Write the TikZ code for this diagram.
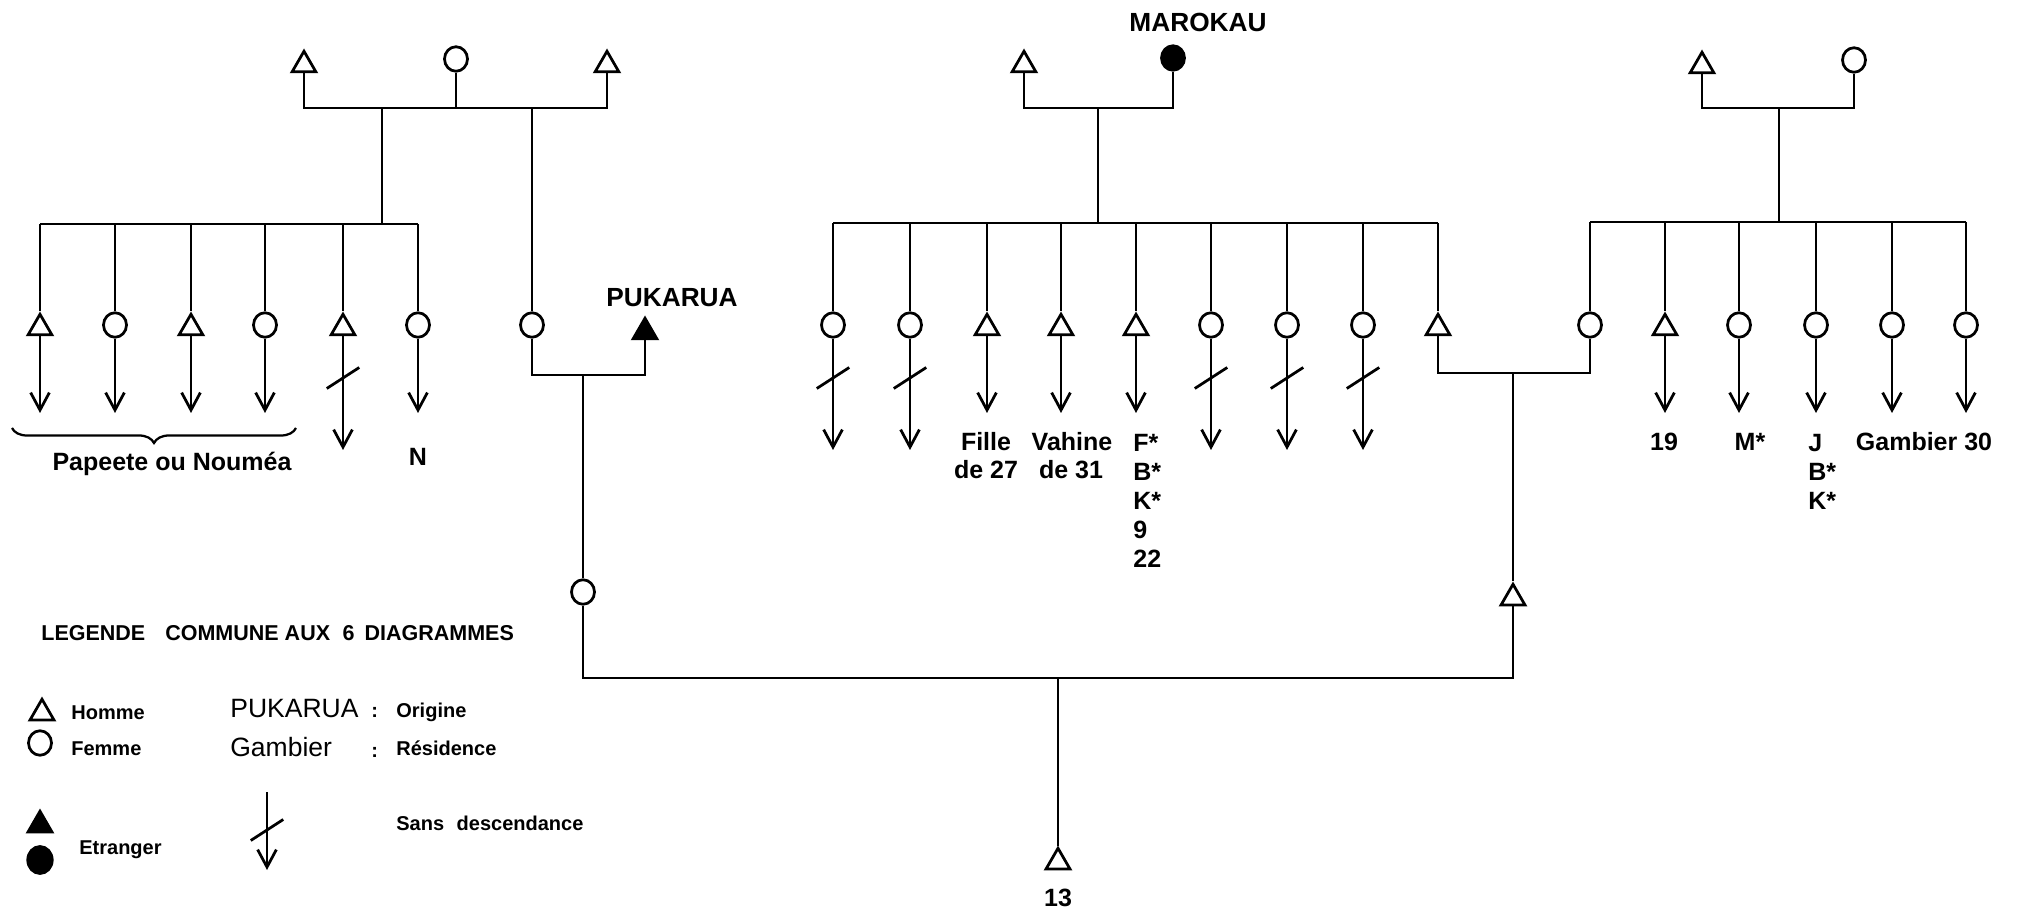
\documentclass[tikz,border=0pt]{standalone}
\usepackage{fontspec}
\setmainfont{Liberation Sans}
\usetikzlibrary{shapes.geometric,arrows.meta,decorations.pathreplacing,calc}
\newcommand\slashat[1]{\draw ([xshift=-6.5pt,yshift=-4.2pt]#1) -- ([xshift=6.5pt,yshift=4.2pt]#1);}
\begin{document}
\begin{tikzpicture}[x=0.4pt,y=-0.4pt, line width=1.1pt,
  man/.style={draw, regular polygon, regular polygon sides=3, minimum size=11pt, inner sep=0pt, fill=white},
  woman/.style={draw, ellipse, minimum width=9.2pt, minimum height=9.8pt, inner sep=0pt, fill=white},
  fman/.style={man, fill=black},
  fwoman/.style={woman, fill=black},
  desc/.style={-{Straight Barb[length=7pt,width=7.5pt]}},
  lbl/.style={font=\bfseries\fontsize{10}{11.6}\selectfont, inner sep=0pt, anchor=base},
  plc/.style={font=\bfseries\fontsize{10.5}{12}\selectfont, inner sep=0pt, anchor=base},
  leg/.style={font=\bfseries\fontsize{8}{10}\selectfont, inner sep=0pt, anchor=base west},
  legbig/.style={font=\fontsize{10.6}{12}\selectfont, inner sep=0pt, anchor=base west},
  stack/.style={font=\bfseries\fontsize{10}{11.6}\selectfont, inner sep=0pt, anchor=north west, align=left}
]
\useasboundingbox (0,0) rectangle (2019,911);
\coordinate (tipA) at (0,413);
\coordinate (tipB) at (0,450);
\coordinate (slA) at (0,378);

% ---------- Family 1 (top left) ----------
\node[man] (a1) at (304,65) {};
\node[woman] (a2) at (456,59) {};
\node[man] (a3) at (607,65) {};
\coordinate (m1) at (382,108);
\draw (a1.south) |- (a3.south |- m1) -- (a3.south);
\draw (a2.south) -- (a2.south |- m1);
\coordinate (s1L) at (40,224);
\coordinate (s1R) at (418,224);
\draw (m1) -- (m1 |- s1L);
\draw (s1L) -- (s1R);
\foreach \n/\x/\s/\y in {k1/40/man/328, k2/115/woman/325, k3/191/man/328, k4/265/woman/325, k5/343/man/328, k6/418/woman/325}
  {\node[\s] (\n) at (\x,\y) {};
   \draw (\n.north |- s1L) -- (\n.north);}
\foreach \n in {k1,k2,k3,k4,k6} {\draw[desc] (\n.south) -- (\n.south |- tipA);}
\draw[desc] (k5.south) -- (k5.south |- tipB);
\coordinate (x5) at (k5 |- slA);
\slashat{x5}
\coordinate (br1) at (12,428);
\coordinate (br2) at (296,428);
\draw[line width=0.9pt, decorate, decoration={brace, mirror, amplitude=6pt}] (br1) -- (br2);
\node[lbl] (papeete) at (172,471) {Papeete ou Nouméa};
\node[lbl] (nlab) at (418,466) {N};

% ---------- Pukarua branch ----------
\node[woman] (b1) at (532,325) {};
\draw (b1.north |- m1) -- (b1.north);
\node[fman] (b2) at (645,332) {};
\node[plc] (puk) at (672,307) {PUKARUA};
\coordinate (m2) at (583,375);
\draw (b1.south) |- (b2.south |- m2) -- (b2.south);
\node[woman] (c1) at (583,592) {};
\draw (m2) -- (c1.north);

% ---------- Marokau family ----------
\node[plc] (mar) at (1198,32) {MAROKAU};
\node[man] (p1) at (1024,65) {};
\node[fwoman] (p2) at (1173,58) {};
\coordinate (m3) at (1098,108);
\draw (p1.south) |- (p2.south |- m3) -- (p2.south);
\coordinate (s2L) at (833,223);
\coordinate (s2R) at (1438,223);
\draw (m3) -- (m3 |- s2L);
\draw (s2L) -- (s2R);
\foreach \n/\x/\s/\y in {q1/833/woman/325, q2/910/woman/325, q3/987/man/328, q4/1061/man/328, q5/1136/man/328, q6/1211/woman/325, q7/1287/woman/325, q8/1363/woman/325, q9/1438/man/328}
  {\node[\s] (\n) at (\x,\y) {};
   \draw (\n.north |- s2L) -- (\n.north);}
\foreach \n in {q1,q2,q6,q7,q8}
  {\draw[desc] (\n.south) -- (\n.south |- tipB);
   \coordinate (x\n) at (\n |- slA);
   \slashat{x\n}}
\foreach \n in {q3,q4,q5} {\draw[desc] (\n.south) -- (\n.south |- tipA);}
\node[lbl] (fille) at (986,451) {Fille};
\node[lbl] (de27) at (986,479) {de 27};
\node[lbl] (vahine) at (1072,451) {Vahine};
\node[lbl] (de31) at (1071,479) {de 31};
\node[stack] (fbk) at (1132,433) {F*\\B*\\K*\\9\\22};

% ---------- Right family ----------
\node[man] (r1) at (1702,66) {};
\node[woman] (r2) at (1854,60) {};
\coordinate (m6) at (1779,108);
\draw (r1.south) |- (r2.south |- m6) -- (r2.south);
\coordinate (s3L) at (1590,222);
\coordinate (s3R) at (1966,222);
\draw (m6) -- (m6 |- s3L);
\draw (s3L) -- (s3R);
\foreach \n/\x/\s/\y in {c3/1590/woman/325, t2/1665/man/328, t3/1739/woman/325, t4/1816/woman/325, t5/1892/woman/325, t6/1966/woman/325}
  {\node[\s] (\n) at (\x,\y) {};
   \draw (\n.north |- s3L) -- (\n.north);}
\foreach \n in {t2,t3,t4,t5,t6} {\draw[desc] (\n.south) -- (\n.south |- tipA);}
\node[lbl] (l19) at (1664,451) {19};
\node[lbl] (lm) at (1750,451) {M*};
\node[stack] (jbk) at (1807,433) {J\\B*\\K*};
\node[lbl] (gam) at (1924,451) {Gambier 30};

% ---------- Marriage of the two cousins ----------
\coordinate (m5) at (1513,373);
\draw (q9.south) |- (c3.south |- m5) -- (c3.south);
\node[man] (c2) at (1513,598) {};
\draw (m5) -- (c2.north);
\coordinate (m4) at (1058,678);
\draw (c1.south) |- (c2.south |- m4) -- (c2.south);
\node[man] (d) at (1058,862) {};
\draw (m4) -- (d.north);
\node[lbl] (n13) at (1058,906) {13};

% ---------- Legend ----------
\node[leg, font=\bfseries\fontsize{8.6}{10}\selectfont] (title) at (40,640) {LEGENDE\hspace{8pt}COMMUNE AUX\hspace{5pt}6\hspace{4pt}DIAGRAMMES};
\node[man] (lgm) at (42,713) {};
\node[leg] (homme) at (70,719) {Homme};
\node[woman] (lgw) at (40,743) {};
\node[leg] (femme) at (70,755) {Femme};
\node[legbig] (lpuk) at (229,717) {PUKARUA};
\node[leg] (col1) at (370,717) {:};
\node[leg] (orig) at (395,717) {Origine};
\node[legbig] (lgam) at (229,756) {Gambier};
\node[leg] (col2) at (370,757) {:};
\node[leg] (resi) at (395,755) {Résidence};
\node[fman] (lgfm) at (40,825) {};
\node[fwoman, minimum width=9.8pt, minimum height=10.8pt] (lgfw) at (40,860) {};
\node[leg] (etr) at (78,854) {Etranger};
\coordinate (ls1) at (267,792);
\coordinate (ls2) at (267,870);
\draw[desc] (ls1) -- (ls2);
\coordinate (lsx) at (267,830);
\slashat{lsx}
\node[leg] (sans) at (395,830) {Sans\hspace{5pt}descendance};
\end{tikzpicture}
\end{document}
